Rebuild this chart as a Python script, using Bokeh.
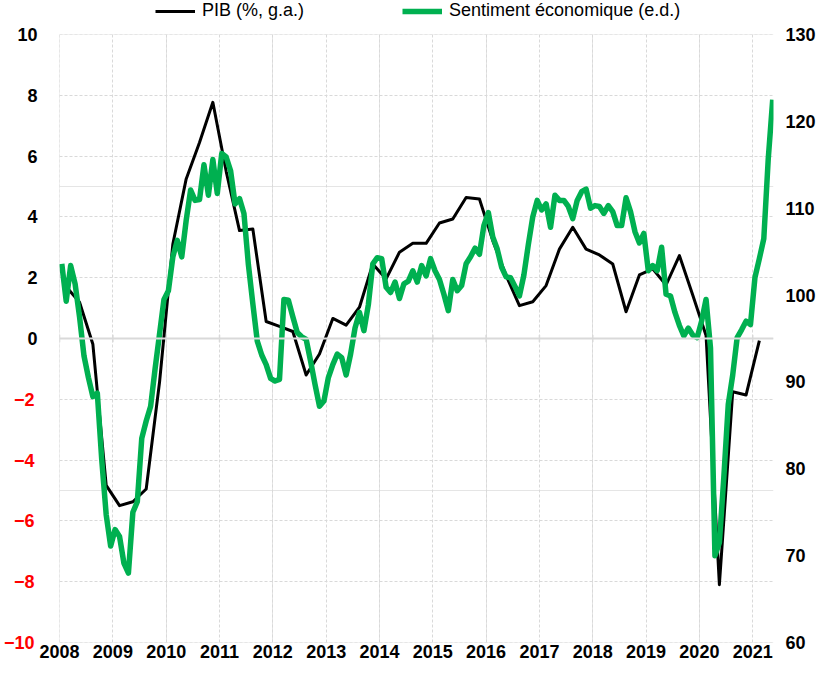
import numpy as np
from bokeh.plotting import figure
from bokeh.layouts import column
from bokeh.models import (Range1d, LinearAxis, FixedTicker, Span, Legend, LegendItem, Grid)
from bokeh.embed import file_html
from bokeh.resources import INLINE

# ---------------- data ----------------
years = list(range(2008, 2022))
year_labels = {y: str(y) for y in years}
gdp_ticks_pos = [0, 2, 4, 6, 8, 10]
gdp_ticks_neg = [-10, -8, -6, -4, -2]
gdp_ticks = gdp_ticks_neg + gdp_ticks_pos
esi_ticks = [60, 70, 80, 90, 100, 110, 120, 130]

# PIB (%, g.a.), quarterly Q1 2008 .. Q1 2021
gdp_q = [
    1.70, 1.19, -0.19, -4.83,
    -5.50, -5.37, -4.95, -1.44,
    3.11, 5.25, 6.45, 7.77,
    5.50, 3.55, 3.60, 0.56,
    0.40, 0.23, -1.20, -0.51,
    0.66, 0.44, 1.03, 2.45,
    1.96, 2.84, 3.13, 3.13,
    3.80, 3.93, 4.64, 4.59,
    3.22, 2.07, 1.08, 1.21,
    1.74, 2.94, 3.66, 2.94,
    2.75, 2.45, 0.88, 2.09,
    2.29, 1.76, 2.73, 1.43,
    0.10, -8.10, -1.75, -1.86,
    -0.07,
]

# Sentiment economique (e.d.), monthly Jan 2008 .. May 2021
esi_m = [
    103.6, 99.3, 103.4, 101.3, 97.5, 93.0, 90.5, 88.3, 88.7, 81.0, 74.7, 71.1,
    73.0, 72.2, 69.1, 68.0, 75.0, 76.2, 83.5, 85.5, 87.2, 91.5, 95.5, 99.5,
    100.5, 104.4, 106.3, 104.4, 108.6, 112.1, 110.9, 111.0, 115.0, 111.5, 115.6, 111.7,
    116.3, 115.9, 114.3, 110.5, 111.1, 109.4, 103.5, 99.0, 94.7, 93.1, 92.0, 90.4,
    90.1, 90.3, 99.5, 99.4, 97.5, 95.7, 95.2, 94.9, 92.4, 89.7, 87.2, 87.8,
    90.5, 92.0, 93.2, 92.8, 90.8, 93.2, 96.2, 98.0, 95.9, 98.9, 103.6, 104.3,
    104.2, 100.9, 100.3, 101.5, 99.6, 101.3, 101.6, 102.8, 101.5, 103.4, 102.2, 104.2,
    102.8, 101.8, 100.1, 98.2, 101.8, 100.5, 101.1, 103.6, 104.4, 105.4, 104.7, 108.0,
    109.5, 106.7, 105.3, 103.2, 102.1, 102.0, 101.0, 99.9, 102.3, 105.8, 109.0, 110.9,
    109.8, 110.5, 107.8, 111.5, 110.9, 110.9, 110.2, 108.8, 110.9, 111.9, 112.2, 110.0,
    110.3, 110.2, 109.4, 110.3, 109.6, 108.0, 108.0, 111.2, 109.6, 107.3, 106.0, 107.1,
    102.8, 103.4, 102.8, 105.5, 100.1, 99.9, 98.0, 96.5, 95.3, 96.2, 95.4, 95.1,
    97.0, 99.5, 93.9, 70.0, 71.5, 79.0, 87.4, 90.8, 95.1, 96.0, 97.0, 96.6,
    102.0, 104.2, 106.5, 115.7, 122.5,
]

gdp_x = 2008 + (np.arange(len(gdp_q)) * 3 + 1.5) / 12.0
esi_x = 2008 + (np.arange(len(esi_m)) + 0.5) / 12.0

TICK_FONT = "Liberation Sans"
LEG_FONT = "Liberation Sans"
GREEN = "#00B050"
GRID = "#D9D9D9"
HEAD_W = 818
HEAD_H = 21
MAIN_H = 664 - HEAD_H


def style_axis(ax, color, standoff):
    ax.axis_line_color = None
    ax.major_tick_line_color = None
    ax.minor_tick_line_color = None
    ax.major_tick_out = 0
    ax.major_tick_in = 0
    ax.minor_tick_out = 0
    ax.minor_tick_in = 0
    ax.major_label_text_font = TICK_FONT
    ax.major_label_text_font_style = "bold"
    ax.major_label_text_font_size = "18px"
    ax.major_label_text_color = color
    ax.major_label_standoff = standoff


# ---------------- main chart ----------------
p = figure(frame_width=714, height=MAIN_H, output_backend="svg", toolbar_location=None,
           x_range=Range1d(2007.999, 2021.39), y_range=Range1d(-10.001, 10.001),
           x_axis_location=None, y_axis_location=None,
           min_border_left=51, min_border_right=5, min_border_top=13,
           min_border_bottom=22)
p.extra_y_ranges = {"esi": Range1d(60, 130)}
p.outline_line_color = None
p.background_fill_color = "white"
p.border_fill_color = "white"

# grids
p.add_layout(Grid(dimension=0, ticker=FixedTicker(ticks=years),
                  grid_line_color=GRID, grid_line_dash="3 2", grid_line_width=1), "center")
p.add_layout(Grid(dimension=1, ticker=FixedTicker(ticks=gdp_ticks),
                  grid_line_color=GRID, grid_line_dash="3 2", grid_line_width=1), "center")

# zero line with small cross ticks
p.add_layout(Span(location=0, dimension="width", line_color=GRID, line_width=2))
p.segment(x0=years, y0=[-0.12] * len(years), x1=years, y1=[0.12] * len(years),
          line_color=GRID, line_width=1.5)

# bottom axis
xax = LinearAxis(ticker=FixedTicker(ticks=years), major_label_overrides=year_labels)
style_axis(xax, "black", 2)
p.add_layout(xax, "below")

# left axes: positive labels (black, inner) and negative labels (red, outer)
yax_pos = LinearAxis(ticker=FixedTicker(ticks=gdp_ticks_pos))
style_axis(yax_pos, "black", 22)
p.add_layout(yax_pos, "left")
yax_neg = LinearAxis(ticker=FixedTicker(ticks=gdp_ticks_neg))
style_axis(yax_neg, "#FF0000", -20)
p.add_layout(yax_neg, "left")

# right axis
rax = LinearAxis(y_range_name="esi", ticker=FixedTicker(ticks=esi_ticks))
style_axis(rax, "black", 12)
p.add_layout(rax, "right")

# series
p.line(gdp_x, gdp_q, line_color="black", line_width=3, line_join="round")
p.line(esi_x, esi_m, y_range_name="esi", line_color=GREEN, line_width=5.5,
       line_join="round")

# ---------------- legend strip ----------------
h = figure(width=HEAD_W, height=HEAD_H, output_backend="svg", toolbar_location=None,
           x_range=Range1d(0, 1), y_range=Range1d(0, 1),
           x_axis_location=None, y_axis_location=None, min_border=0)
h.outline_line_color = None
h.background_fill_color = "white"
h.border_fill_color = "white"
h.grid.visible = False
# same series drawn in the strip (outside its visible range) only to feed the legend
r1 = h.line(gdp_x, gdp_q, line_color="black", line_width=3)
r2 = h.line(esi_x, esi_m, line_color=GREEN, line_width=5.5)
legend = Legend(items=[LegendItem(label="PIB (%, g.a.)", renderers=[r1]),
                       LegendItem(label="Sentiment économique (e.d.)", renderers=[r2])],
                orientation="horizontal", location=(96, 0),
                glyph_width=40, glyph_height=20, label_height=20, label_standoff=7,
                spacing=98, padding=0, margin=0,
                border_line_color=None, background_fill_alpha=0,
                label_text_font=LEG_FONT, label_text_font_size="18px",
                label_text_color="black")
h.add_layout(legend, "center")

layout = column(h, p, spacing=0)
open("out.html", "w").write(file_html(layout, INLINE))
